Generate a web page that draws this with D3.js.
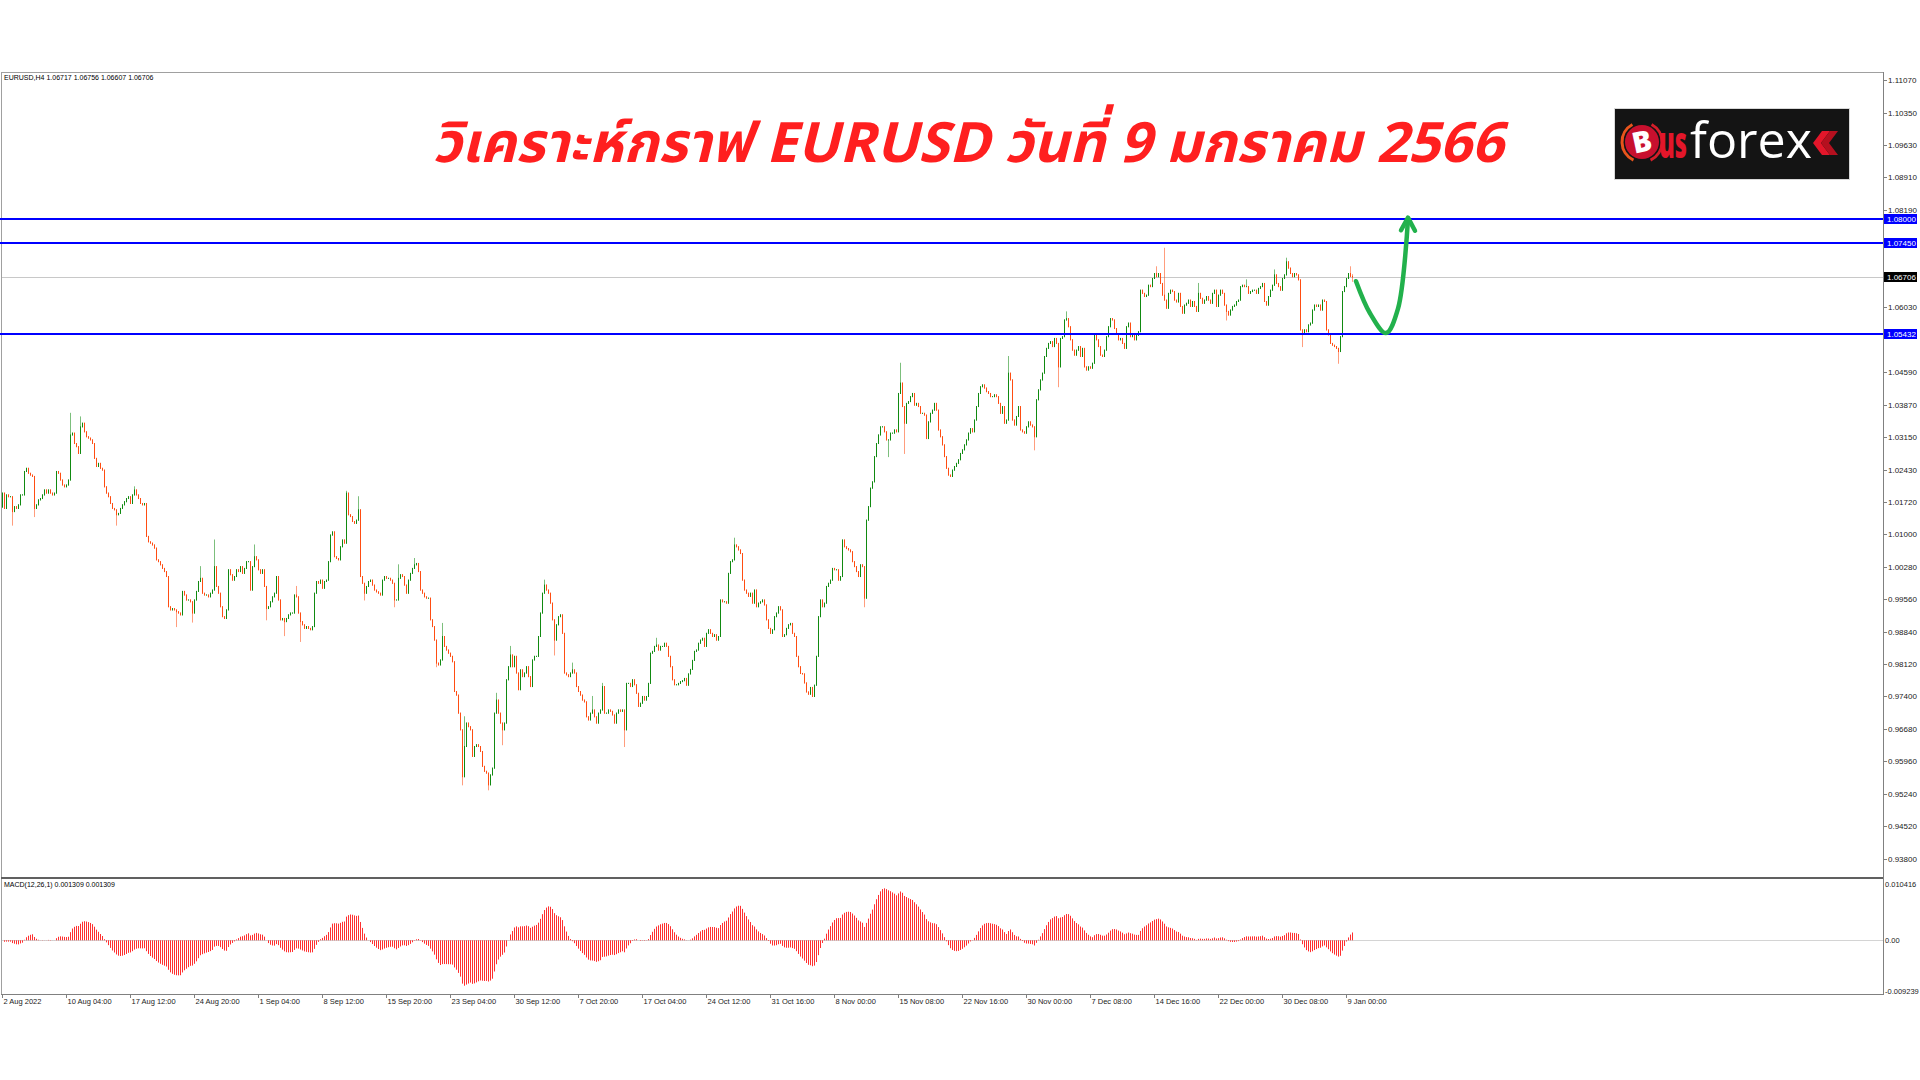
<!DOCTYPE html>
<html><head><meta charset="utf-8">
<script src="https://cdn.jsdelivr.net/npm/d3@7"></script>
<style>
html,body{margin:0;padding:0;background:#fff;}
svg{display:block;}
</style></head><body>
<svg id="chart" width="1920" height="1080"></svg>
<script>
// ---------------- DATA ----------------
const symbolInfo = "EURUSD,H4  1.06717 1.06756 1.06607 1.06706";
const macdInfo = "MACD(12,26,1) 0.001309 0.001309";
const titleText = "วิเคราะห์กราฟ EURUSD วันที่ 9 มกราคม 2566";

// H4 closes in pips (price x 10000), 2 Aug 2022 -> 9 Jan 2023
const firstOpen = 10160;
const closePips = [
10191,10157,10187,10183,10183,10150,10161,10157,10165,10187,
10187,10239,10246,10235,10231,10228,10157,10165,10176,10179,
10187,10198,10191,10198,10191,10187,10191,10239,10235,10220,
10209,10205,10209,10220,10320,10324,10301,10294,10279,10338,
10346,10327,10316,10313,10309,10301,10268,10250,10257,10246,
10242,10205,10191,10183,10168,10157,10154,10143,10146,10157,
10165,10172,10179,10183,10168,10187,10198,10187,10179,10168,
10165,10168,10095,10083,10080,10076,10069,10043,10039,10032,
10024,10017,10006,9939,9932,9935,9932,9928,9925,9921,
9973,9965,9954,9954,9950,9925,9954,9973,9995,10002,
9969,9965,9965,9961,9969,9976,10028,9984,9969,9939,
9917,9913,9932,10021,10010,9998,10006,10021,10017,10028,
10013,10024,10039,10039,9976,10028,10050,10043,10021,10013,
10021,9984,9935,9939,9950,9961,9969,10006,9954,9910,
9913,9906,9913,9921,9925,9925,9965,9961,9925,9906,
9899,9891,9895,9891,9888,9895,9969,9995,9991,9998,
9980,9995,9998,10039,10098,10105,10050,10046,10043,10072,
10087,10080,10191,10143,10139,10128,10124,10131,10154,10006,
9991,9969,9984,9995,9998,9987,9976,9972,9969,9965,
9998,10006,10002,10002,9998,9991,9954,9954,10002,10010,
10006,9987,9969,9998,10013,10024,10032,10035,10017,9976,
9969,9961,9958,9958,9910,9895,9865,9814,9810,9821,
9873,9851,9843,9836,9829,9817,9751,9743,9703,9666,
9562,9629,9681,9673,9666,9607,9629,9633,9629,9618,
9585,9574,9570,9544,9566,9581,9703,9732,9703,9681,
9666,9681,9777,9806,9832,9806,9829,9792,9755,9799,
9784,9792,9806,9784,9762,9821,9829,9829,9873,9925,
9969,9987,9976,9969,9947,9910,9865,9899,9917,9921,
9880,9792,9788,9784,9792,9799,9792,9762,9751,9743,
9732,9728,9695,9688,9703,9710,9695,9681,9703,9710,
9762,9703,9703,9710,9707,9699,9681,9703,9710,9707,
9710,9666,9769,9769,9762,9777,9766,9747,9718,9725,
9740,9732,9740,9769,9836,9840,9851,9854,9843,9851,
9851,9858,9851,9829,9806,9777,9766,9766,9769,9773,
9775,9780,9765,9790,9800,9820,9840,9843,9858,9865,
9869,9851,9880,9888,9880,9873,9877,9865,9873,9954,
9950,9950,9947,10013,10039,10043,10076,10072,10065,10057,
9998,9976,9969,9962,9969,9947,9976,9939,9947,9950,
9954,9943,9910,9891,9880,9888,9917,9925,9939,9932,
9873,9877,9891,9899,9902,9880,9873,9829,9806,9791,
9790,9770,9750,9745,9760,9740,9765,9829,9917,9954,
9939,9947,9984,9991,9998,10024,10021,10021,9998,10006,
10087,10072,10068,10065,10061,10039,10028,10017,10006,10032,
10028,9958,10131,10161,10202,10216,10272,10301,10320,10338,
10338,10327,10309,10309,10324,10324,10331,10327,10412,10435,
10383,10346,10390,10394,10405,10412,10386,10390,10383,10368,
10368,10364,10312,10349,10368,10375,10390,10375,10331,10316,
10298,10272,10246,10231,10228,10242,10250,10257,10265,10279,
10287,10298,10309,10324,10334,10327,10353,10383,10412,10427,
10431,10424,10416,10412,10405,10405,10409,10405,10390,10368,
10383,10346,10353,10457,10442,10353,10342,10361,10383,10331,
10327,10324,10338,10349,10342,10338,10316,10398,10420,10442,
10457,10494,10512,10523,10527,10516,10534,10523,10471,10534,
10538,10575,10578,10560,10531,10508,10497,10508,10516,10494,
10512,10471,10464,10471,10468,10479,10541,10531,10516,10497,
10494,10508,10538,10560,10578,10575,10556,10545,10531,10534,
10523,10512,10560,10568,10538,10541,10531,10541,10549,10641,
10634,10627,10630,10652,10649,10667,10678,10671,10678,10656,
10630,10619,10601,10634,10641,10638,10619,10615,10634,10605,
10590,10608,10612,10619,10605,10616,10605,10594,10634,10623,
10612,10619,10627,10619,10612,10634,10641,10605,10630,10641,
10634,10608,10594,10586,10597,10605,10608,10616,10619,10649,
10652,10649,10649,10634,10638,10641,10641,10634,10645,10649,
10656,10616,10608,10627,10641,10652,10675,10656,10649,10641,
10667,10675,10704,10690,10678,10671,10678,10675,10664,10553,
10545,10553,10549,10564,10568,10597,10608,10605,10608,10597,
10619,10616,10553,10542,10523,10519,10516,10512,10505,10538,
10638,10649,10667,10678,10671.7,10670.6
];
// visible wick extremes [bar index, price in pips]
const highWicks = [[34,10368],[39,10360],[66,10205],[99,10028],[106,10087],[126,10076],[147,9984],
  [172,10195],[178,10183],[198,10032],[206,10046],[220,9902],[231,9695],[247,9747],[254,9851],
  [271,9998],[285,9814],[295,9740],[300,9769],[327,9869],[366,10091],[449,10479],[503,10494],
  [532,10593],[577,10693],[581,10734],[598,10656],[622,10664],[636,10686],[642,10712],[674,10693],[675,10675.6]];
const lowWicks = [[5,10120],[16,10139],[57,10120],[87,9895],[95,9905],[132,9910],[141,9875],[149,9862],
  [181,9954],[196,9939],[217,9806],[230,9544],[243,9533],[250,9633],[276,9832],[311,9629],
  [431,9939],[443,10272],[451,10279],[516,10287],[528,10427],[612,10575],[650,10516],[668,10479],[675,10660.7]];

const priceTicks = [1.11070,1.10350,1.09630,1.08910,1.08190,1.06030,1.04590,1.03870,1.03150,1.02430,
  1.01720,1.01000,1.00280,0.99560,0.98840,0.98120,0.97400,0.96680,0.95960,0.95240,0.94520,0.93800];
const priceTickText = ["1.11070","1.10350","1.09630","1.08910","1.08190","1.06030","1.04590","1.03870","1.03150","1.02430",
  "1.01720","1.01000","1.00280","0.99560","0.98840","0.98120","0.97400","0.96680","0.95960","0.95240","0.94520","0.93800"];
const dateTickBars = [0,32,64,96,128,160,192,224,256,288,320,352,384,416,448,480,512,544,576,608,640,672];
const dateTickText = ["2 Aug 2022","10 Aug 04:00","17 Aug 12:00","24 Aug 20:00","1 Sep 04:00","8 Sep 12:00",
  "15 Sep 20:00","23 Sep 04:00","30 Sep 12:00","7 Oct 20:00","17 Oct 04:00","24 Oct 12:00","31 Oct 16:00",
  "8 Nov 00:00","15 Nov 08:00","22 Nov 16:00","30 Nov 00:00","7 Dec 08:00","14 Dec 16:00","22 Dec 00:00",
  "30 Dec 08:00","9 Jan 00:00"];
const levelLines = [1.08000, 1.07450, 1.05432];
const levelText = ["1.08000","1.07450","1.05432"];
const macdTicks = [0.010416, 0, -0.009239];
const macdTickText = ["0.010416","0.00","-0.009239"];
// hand-drawn forecast arrow in (bar index, price)
const arrowPts = [[677,1.0661],[684,1.0590],[692,1.0546],[698,1.0600],[703,1.0800]];
const arrowHead = [[699.5,1.0774],[703,1.0802],[706.5,1.0773]];

// ---------------- LAYOUT ----------------
const L = 2, R = 1883, TOP = 72, MAINB = 877, MTOP = 879, MB = 994;
const svg = d3.select("#chart");
const FONT = "'Liberation Sans', Arial, sans-serif";

const x = d3.scaleLinear().domain([0, 675]).range([2, 1352]);
const y = d3.scaleLinear().domain([0.93800, 1.11070]).range([858.8, 80.1]);
const yM = d3.scaleLinear().domain([-0.009239, 0.010416]).range([990.6, 883.6]);

const defs = svg.append("defs");
defs.append("clipPath").attr("id","cMain").append("rect").attr("x",0).attr("y",TOP).attr("width",R).attr("height",MAINB-TOP);
defs.append("clipPath").attr("id","cMacd").append("rect").attr("x",L).attr("y",MTOP).attr("width",R-L).attr("height",MB-MTOP);

// bars
const bars = closePips.map((c, i) => {
  const o = i === 0 ? firstOpen : closePips[i-1];
  let h = Math.max(o, c), l = Math.min(o, c);
  highWicks.forEach(w => { if (w[0] === i) h = Math.max(h, w[1]); });
  lowWicks.forEach(w => { if (w[0] === i) l = Math.min(l, w[1]); });
  return {i, o: o/1e4, c: c/1e4, h: h/1e4, l: l/1e4};
});

// frame
const frame = svg.append("g");
frame.append("line").attr("x1",L-1).attr("x2",R).attr("y1",TOP+0.5).attr("y2",TOP+0.5).attr("stroke","#a0a0a0");
frame.append("line").attr("x1",L-0.5).attr("x2",L-0.5).attr("y1",TOP).attr("y2",MB).attr("stroke","#a0a0a0");
frame.append("line").attr("x1",R+0.5).attr("x2",R+0.5).attr("y1",TOP).attr("y2",MB).attr("stroke","#808080");
frame.append("line").attr("x1",L-1).attr("x2",R).attr("y1",MAINB+0.5).attr("y2",MAINB+0.5).attr("stroke","#606060");
frame.append("line").attr("x1",L-1).attr("x2",R).attr("y1",MTOP-0.5).attr("y2",MTOP-0.5).attr("stroke","#606060");
frame.append("line").attr("x1",L-1).attr("x2",R+1).attr("y1",MB+0.5).attr("y2",MB+0.5).attr("stroke","#808080");

// price axis (right)
const pAx = svg.append("g");
priceTicks.forEach((p, k) => {
  const yy = Math.round(y(p)) + 0.5;
  pAx.append("line").attr("x1",R).attr("x2",R+4).attr("y1",yy).attr("y2",yy).attr("stroke","#808080");
  pAx.append("text").attr("x",R+5).attr("y",yy).attr("dy","0.35em").attr("font-family",FONT)
    .attr("font-size",8).attr("fill","#222").text(priceTickText[k]);
});

// date axis
const dAx = svg.append("g");
dateTickBars.forEach((b, k) => {
  const xx = Math.round(x(b)) + 0.5;
  dAx.append("line").attr("x1",xx).attr("x2",xx).attr("y1",MB).attr("y2",MB+4).attr("stroke","#808080");
  dAx.append("text").attr("x",xx+1).attr("y",1001).attr("dy","0.35em").attr("font-family",FONT)
    .attr("font-size",7.5).attr("fill","#222").text(dateTickText[k]);
});

// current price line
const last = bars[bars.length-1];
svg.append("line").attr("x1",L).attr("x2",R).attr("y1",Math.round(y(last.c))+0.5).attr("y2",Math.round(y(last.c))+0.5)
  .attr("stroke","#c8c8c8");

// candles
const gC = svg.append("g").attr("clip-path","url(#cMain)");
const bull = "#118a11", bear = "#ff4d12";
gC.selectAll("line.w").data(bars).join("line").attr("class","w")
  .attr("x1", d => Math.round(x(d.i))+0.5).attr("x2", d => Math.round(x(d.i))+0.5)
  .attr("y1", d => y(d.h)-0.5).attr("y2", d => y(d.l)+0.5)
  .attr("stroke", d => d.c >= d.o ? bull : bear).attr("stroke-opacity",0.55);
gC.selectAll("line.b").data(bars).join("line").attr("class","b")
  .attr("x1", d => Math.round(x(d.i))+0.5).attr("x2", d => Math.round(x(d.i))+0.5)
  .attr("y1", d => y(Math.max(d.o,d.c))-0.5).attr("y2", d => y(Math.min(d.o,d.c))+0.5)
  .attr("stroke", d => d.c >= d.o ? bull : bear);

// level lines
levelLines.forEach((p, k) => {
  const yy = Math.round(y(p));
  svg.append("line").attr("x1",0).attr("x2",R).attr("y1",yy).attr("y2",yy).attr("stroke","#0000ff").attr("stroke-width",2);
});

// forecast arrow
const gA = svg.append("g").attr("fill","none").attr("stroke","#22b14c").attr("stroke-width",4.5)
  .attr("stroke-linecap","round").attr("stroke-linejoin","round");
gA.append("path").attr("d", d3.line().x(d => x(d[0])).y(d => y(d[1])).curve(d3.curveCatmullRom.alpha(0.5))(arrowPts));
gA.append("path").attr("d", d3.line().x(d => x(d[0])).y(d => y(d[1]))(arrowHead));

// price tags
function tag(p, txt, bg) {
  const yy = Math.round(y(p));
  svg.append("rect").attr("x",R+1).attr("y",yy-5).attr("width",33).attr("height",10).attr("fill",bg);
  svg.append("text").attr("x",R+4).attr("y",yy).attr("dy","0.35em").attr("font-family",FONT)
    .attr("font-size",8).attr("fill","#fff").text(txt);
}
levelLines.forEach((p,k) => tag(p, levelText[k], "#0000ff"));
tag(last.c, last.c.toFixed(5), "#000000");

// MACD
function ema(arr, n) {
  const k = 2/(n+1); const out = []; let e = arr[0];
  arr.forEach((v,i) => { e = i === 0 ? v : v*k + e*(1-k); out.push(e); });
  return out;
}
const closes = bars.map(d => d.c);
const e12 = ema(closes, 12), e26 = ema(closes, 26);
const macd = closes.map((c,i) => e12[i] - e26[i]);

svg.append("line").attr("x1",L).attr("x2",R).attr("y1",Math.round(yM(0))+0.5).attr("y2",Math.round(yM(0))+0.5)
  .attr("stroke","#d4d4d4");
const gM = svg.append("g").attr("clip-path","url(#cMacd)");
gM.selectAll("line").data(macd).join("line")
  .attr("x1",(d,i) => Math.round(x(i))+0.5).attr("x2",(d,i) => Math.round(x(i))+0.5)
  .attr("y1", yM(0)).attr("y2", d => yM(d))
  .attr("stroke","#ff3030");
macdTicks.forEach((v,k) => {
  const yy = Math.round(yM(v)) + 0.5;
  svg.append("text").attr("x",R+2).attr("y",yy).attr("dy","0.35em").attr("font-family",FONT)
    .attr("font-size",7.5).attr("fill","#222").text(macdTickText[k]);
});

// info texts
svg.append("text").attr("x",4).attr("y",78).attr("dy","0.35em").attr("font-family",FONT).attr("font-size",7)
  .attr("fill","#000").text(symbolInfo);
svg.append("text").attr("x",4).attr("y",885).attr("dy","0.35em").attr("font-family",FONT).attr("font-size",7)
  .attr("fill","#000").text(macdInfo);

// title
const title = svg.append("text").attr("x",968).attr("y",162).attr("text-anchor","middle")
  .attr("font-family","'Noto Sans Thai','Tahoma','Loma','Garuda','DejaVu Sans',sans-serif")
  .attr("font-size",48).attr("font-weight","bold").attr("font-style","italic").attr("fill","#ff1f1f")
  .text(titleText);
const tw = title.node().getComputedTextLength();
title.attr("font-size", 48*1071/tw);

// logo
const lg = svg.append("g");
lg.append("rect").attr("x",1614.5).attr("y",108.5).attr("width",235).attr("height",71).attr("fill","#141414").attr("stroke","#d8d8d8");
const arc = d3.arc();
lg.append("path").attr("transform","translate(1642,142)")
  .attr("d", arc({innerRadius:18.5,outerRadius:21.5,startAngle:-2.7,endAngle:-0.5})).attr("fill","#e8541c");
lg.append("path").attr("transform","translate(1642,142)")
  .attr("d", arc({innerRadius:18.5,outerRadius:21.5,startAngle:0.5,endAngle:2.7})).attr("fill","#d41e2a");
lg.append("circle").attr("cx",1642).attr("cy",142).attr("r",17).attr("fill","#c8102e");
lg.append("text").attr("x",1642).attr("y",152).attr("text-anchor","middle").attr("font-family","'Open Sans',sans-serif")
  .attr("font-weight",800).attr("font-size",29).attr("fill","#fff").attr("transform","rotate(-12,1642,142)").text("B");
// "us" (red) + "forex" (white), each scaled horizontally to the logo's proportions
const usT = lg.append("text").attr("x",0).attr("y",0).attr("font-family","'Open Sans',sans-serif").attr("font-weight",800)
  .attr("font-size",44).attr("fill","#e3162a").text("us");
const usW = usT.node().getComputedTextLength();
usT.attr("transform",`translate(1659,158) scale(${28/usW},1)`);
const fxT = lg.append("text").attr("x",0).attr("y",0).attr("font-family","'Open Sans',sans-serif").attr("font-weight",500)
  .attr("font-size",50).attr("fill","#ffffff").text("forex");
const fxW = fxT.node().getComputedTextLength();
fxT.attr("transform",`translate(1690,158) scale(${122/fxW},1)`);
lg.append("path").attr("d","M1822,131L1830,131L1821,143L1830,155L1822,155L1813,143Z").attr("fill","#e3162a");
lg.append("path").attr("d","M1830,131L1838,131L1829,143L1838,155L1830,155L1821,143Z").attr("fill","#b5101f");
</script>
</body></html>
